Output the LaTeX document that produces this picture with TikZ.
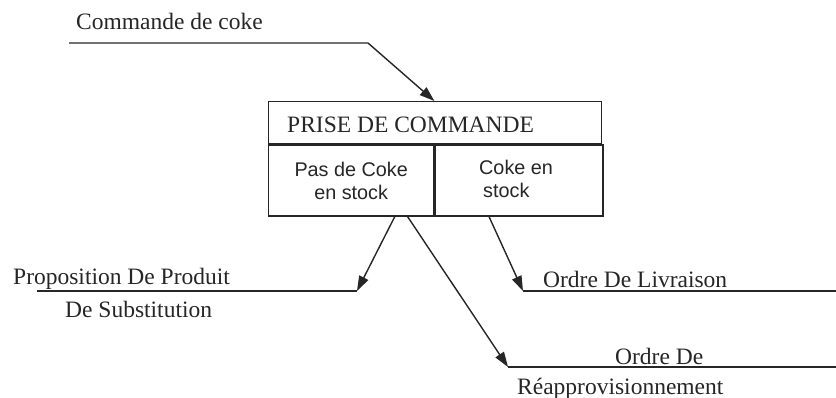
\documentclass[tikz,border=0pt]{standalone}
\usepackage{fontspec}
\setmainfont{Liberation Serif}
\newfontfamily\cellfont{Liberation Sans}
\usetikzlibrary{arrows.meta}
\begin{document}
\begin{tikzpicture}[x=1pt,y=-1pt,
  ink/.style={line width=1.4pt,black!85},
  flow/.style={ink,-{Triangle[length=15pt,width=10pt]}},
  label/.style={inner sep=0pt,text=black!85,font=\fontsize{23.5}{28}\selectfont},
  cell/.style={draw,ink,inner sep=0pt,text=black!85,
    font=\cellfont\fontsize{19.8}{23}\selectfont}]
\useasboundingbox (0,0) rectangle (836,398);

% process box: title row and two condition cells
\node[cell,anchor=north west,minimum width=333pt,minimum height=42pt] (head) at (268,101) {};
\node[label,anchor=base west] (title) at (287,133) {PRISE DE COMMANDE};
\node[cell,anchor=north west,minimum width=165pt,minimum height=71pt,align=center] (nostock)
  at (head.south west) {Pas de Coke\\en stock};
\node[cell,anchor=north west,minimum width=168pt,minimum height=71pt] (stock)
  at (nostock.north east) {};
% base anchor of a two-line node sits on the last line
\node[inner sep=0pt,anchor=base west,align=left,text=black!85,
  font=\cellfont\fontsize{19.8}{23}\selectfont] (stocktxt) at (479,198) {Coke en\\\hspace*{4pt}stock};

% incoming order
\coordinate (cin) at (69,43);
\coordinate (cbend) at (368,43);
\node[label,anchor=base west] (lcmd) at (76,30) {Commande de coke};
\draw[flow] (cin) -- (cbend) -- (head.north west -| nostock.north east);

% substitution proposal
\coordinate (s1) at (357,291);
\coordinate (s0) at (37,291);
\node[label,anchor=base west] (lsub1) at (13,285) {Proposition De Produit};
\node[label,anchor=base west] (lsub2) at (65,317) {De Substitution};
\draw[flow] ([xshift=43.5pt]nostock.south) -- (s1);
\draw[ink] (s1) -- (s0);

% replenishment order
\coordinate (r1) at (508,367);
\coordinate (r2) at (836,367);
\node[label,anchor=base west] (lrep1) at (615,364) {Ordre De};
\node[label,anchor=base west] (lrep2) at (517,394) {Réapprovisionnement};
\draw[flow] ([xshift=56.5pt]nostock.south) -- (r1);
\draw[ink] (r1) -- (r2);

% delivery order
\coordinate (d1) at (523,291);
\coordinate (d2) at (836,291);
\node[label,anchor=base west] (ldel) at (543,288) {Ordre De Livraison};
\draw[flow] ([xshift=-30pt]stock.south) -- (d1);
\draw[ink] (d1) -- (d2);
\end{tikzpicture}
\end{document}
